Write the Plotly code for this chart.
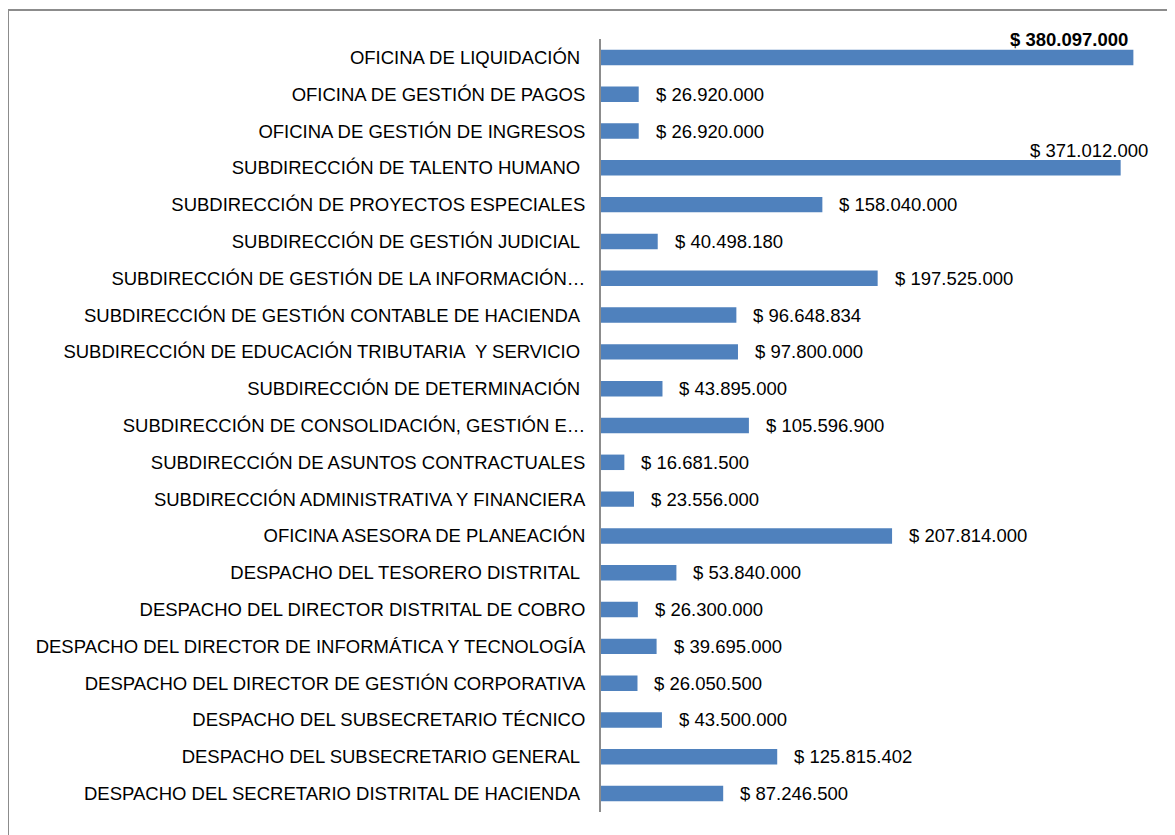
import plotly.graph_objects as go

NBSP = "\u00a0"

# categorías de abajo hacia arriba (orden del eje)
dependencias = [
    "DESPACHO DEL SECRETARIO DISTRITAL DE HACIENDA" + NBSP,
    "DESPACHO DEL SUBSECRETARIO GENERAL" + NBSP,
    "DESPACHO DEL SUBSECRETARIO TÉCNICO",
    "DESPACHO DEL DIRECTOR DE GESTIÓN CORPORATIVA",
    "DESPACHO DEL DIRECTOR DE INFORMÁTICA Y TECNOLOGÍA",
    "DESPACHO DEL DIRECTOR DISTRITAL DE COBRO",
    "DESPACHO DEL TESORERO DISTRITAL" + NBSP,
    "OFICINA ASESORA DE PLANEACIÓN",
    "SUBDIRECCIÓN ADMINISTRATIVA Y FINANCIERA",
    "SUBDIRECCIÓN DE ASUNTOS CONTRACTUALES",
    "SUBDIRECCIÓN DE CONSOLIDACIÓN, GESTIÓN E…",
    "SUBDIRECCIÓN DE DETERMINACIÓN" + NBSP,
    "SUBDIRECCIÓN DE EDUCACIÓN TRIBUTARIA " + NBSP + "Y SERVICIO" + NBSP,
    "SUBDIRECCIÓN DE GESTIÓN CONTABLE DE HACIENDA" + NBSP,
    "SUBDIRECCIÓN DE GESTIÓN DE LA INFORMACIÓN…",
    "SUBDIRECCIÓN DE GESTIÓN JUDICIAL" + NBSP,
    "SUBDIRECCIÓN DE PROYECTOS ESPECIALES",
    "SUBDIRECCIÓN DE TALENTO HUMANO" + NBSP,
    "OFICINA DE GESTIÓN DE INGRESOS",
    "OFICINA DE GESTIÓN DE PAGOS",
    "OFICINA DE LIQUIDACIÓN" + NBSP,
]

valores = [
    87246500,
    125815402,
    43500000,
    26050500,
    39695000,
    26300000,
    53840000,
    207814000,
    23556000,
    16681500,
    105596900,
    43895000,
    97800000,
    96648834,
    197525000,
    40498180,
    158040000,
    371012000,
    26920000,
    26920000,
    380097000,
]

BAR = "#4F81BD"
FONT = "Liberation Sans, Arial, sans-serif"
FS = 18.5


def pesos(v):
    return "$ " + f"{v:,}".replace(",", ".")


fig = go.Figure(
    go.Bar(
        x=valores,
        y=dependencias,
        orientation="h",
        width=0.42,
        marker=dict(color=BAR, line=dict(width=0)),
        hoverinfo="skip",
    )
)

# etiquetas de valor
n = len(valores)
for i, (cat, v) in enumerate(zip(dependencias, valores)):
    if i == n - 1:
        fig.add_annotation(x=v, y=cat, text="<b>" + pesos(v) + "</b>", showarrow=False,
                           xanchor="right", xshift=-3, yshift=18,
                           font=dict(size=FS, color="#000000", family=FONT))
    elif i == n - 4:
        fig.add_annotation(x=v, y=cat, text=pesos(v), showarrow=False,
                           xanchor="right", xshift=29, yshift=17,
                           font=dict(size=FS, color="#000000", family=FONT))
    else:
        fig.add_annotation(x=v, y=cat, text=pesos(v), showarrow=False,
                           xanchor="left", xshift=15,
                           font=dict(size=FS, color="#000000", family=FONT))

# marco gris del área del gráfico
fig.add_shape(type="rect", xref="paper", yref="paper",
              x0=(0 - 593) / 559, x1=(1185 - 593) / 559,
              y0=(804 - 845) / 773, y1=(804 - 2) / 773,
              line=dict(color="#8c8c8c", width=2), layer="below")

fig.update_layout(
    width=1167,
    height=827,
    paper_bgcolor="white",
    plot_bgcolor="white",
    margin=dict(l=593, r=15, t=31, b=23),
    showlegend=False,
    font=dict(family=FONT, size=FS, color="#000000"),
    xaxis=dict(range=[0, 399.1e6], visible=False, showgrid=False, zeroline=False),
    yaxis=dict(
        type="category",
        range=[-0.5, n - 0.5],
        showline=True,
        linecolor="#8c8c8c",
        linewidth=2,
        ticks="",
        showgrid=False,
        ticklabelstandoff=10,
        tickfont=dict(size=FS, family=FONT, color="#000000"),
        automargin=False,
    ),
)

fig.write_html("out.html")
